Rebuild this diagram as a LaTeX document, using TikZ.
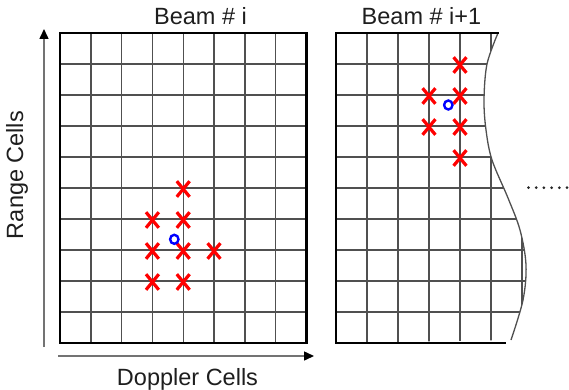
\documentclass[tikz,border=0pt]{standalone}
\usepackage{fontspec}
\setmainfont{Liberation Sans}
\usetikzlibrary{arrows.meta}
\definecolor{gridgray}{RGB}{80,80,80}
\definecolor{txt}{RGB}{30,30,30}
\begin{document}
\begin{tikzpicture}[x=1pt,y=-1pt,
  cellline/.style={draw=gridgray,line width=1.4pt},
  border/.style={draw=black,line width=2.4pt,line cap=rect},
  axis/.style={draw=black!55,line width=1.5pt,-{Triangle[length=10pt,width=9pt,color=black]}},
  lbl/.style={font=\fontsize{23.5}{26}\selectfont,text=txt,inner sep=0pt,anchor=base},
  xmark/.style={draw=red,line width=3.2pt},
  omark/.style={draw=blue,line width=2.4pt}]
\useasboundingbox (0,0) rectangle (569,390);
% ---- grid 1 ----
\foreach \i in {1,...,7} \draw[cellline] ({60+30.8*\i},33) -- ({60+30.8*\i},343);
\foreach \j in {1,...,9} \draw[cellline] (60,{33+31*\j}) -- (306.4,{33+31*\j});
\draw[border] (60,33) rectangle (306.4,343);
% ---- grid 2 ----
\begin{scope}
\clip (336,33) -- plot[smooth,tension=0.55] coordinates {(498,33) (487,64) (484,100) (486,130) (492,160) (508,198) (520,230) (526,265) (523,300) (511,340)} -- (336,343) -- cycle;
\foreach \i in {1,...,6} \draw[cellline] ({336+31*\i},33) -- ({336+31*\i},343);
\foreach \j in {1,...,9} \draw[cellline] (336,{33+31*\j}) -- (540,{33+31*\j});
\end{scope}
\draw[draw=gridgray,line width=1.3pt] plot[smooth,tension=0.55] coordinates {(498,33) (487,64) (484,100) (486,130) (492,160) (508,198) (520,230) (526,265) (523,300) (511,340)};
\draw[border] (498,33) -- (336,33) -- (336,343) -- (505,343);
% ---- marks ----
\newcommand{\xm}[2]{\draw[xmark] ({#1-6.4},{#2-7.8}) -- ({#1+6.4},{#2+7.8}) ({#1-6.4},{#2+7.8}) -- ({#1+6.4},{#2-7.8});}
\xm{183.2}{189}
\xm{152.4}{220}\xm{183.2}{220}
\xm{152.4}{251}\xm{183.2}{251}\xm{214}{251}
\xm{152.4}{282}\xm{183.2}{282}
\draw[omark] (174.3,239.3) ellipse (4.2pt and 4.5pt);
\xm{460}{65}
\xm{429}{96}\xm{460}{96}
\xm{429}{127}\xm{460}{127}
\xm{460}{158}
\draw[omark] (448.3,105) ellipse (4.2pt and 4.5pt);
% ---- dots ----
\foreach \k in {0,...,5} \fill[black!85] ({528.5+7.7*\k},187.7) circle (1.5pt);
% ---- axes ----
\coordinate (vb) at (44,347);
\coordinate (vt) at (44,29);
\coordinate (hl) at (58,356);
\coordinate (hr) at (314,356);
\draw[axis] (vb) -- (vt);
\draw[axis] (hl) -- (hr);
% ---- labels ----
\node[lbl] (b1) at (200.5,25) {Beam \# i};
\node[lbl] (b2) at (421.5,25) {Beam \# i+1};
\node[lbl] (dc) at (187.5,385) {Doppler Cells};
\node[lbl,rotate=90] (rc) at (23,175) {Range Cells};
\end{tikzpicture}
\end{document}
